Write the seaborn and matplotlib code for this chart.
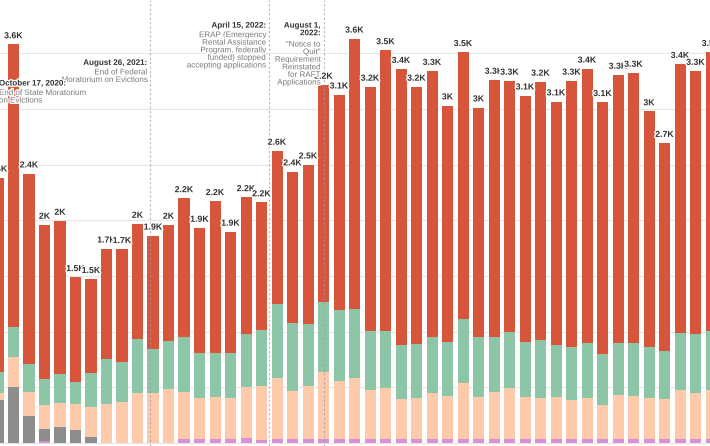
import numpy as np
import seaborn as sns
import matplotlib.pyplot as plt
import matplotlib.patheffects as pe

# monthly eviction filings, Nov 2020 onwards (bar index 0 = Nov 2020)
months = np.arange(47)
pink = [0, 0, 0, 15, 0, 0, 0, 0, 0, 0, 0, 0,
        35, 35, 35, 35, 45, 30, 35, 35, 35, 35, 35, 35, 35, 35, 35, 35,
        35, 35, 35, 35, 35, 35, 35, 35, 35, 35, 35, 35, 35, 35, 35, 35,
        35, 35, 35]
gray = [390, 505, 239, 109, 142, 115, 53] + [0] * 40
peach = [62, 266, 222, 213, 221, 231, 266, 346, 372, 452, 452, 487,
         426, 373, 381, 373, 460, 484, 550, 435, 479, 603, 523, 550,
         443, 461, 364, 373, 417, 390, 505, 381, 426, 461, 381, 373,
         381, 355, 373, 302, 399, 390, 373, 364, 443, 417, 443]
green = [186, 274, 248, 239, 257, 203, 310, 407, 355, 478, 390, 426,
         487, 398, 390, 398, 470, 505, 664, 611, 558, 629, 638, 620,
         532, 514, 478, 478, 496, 479, 576, 532, 487, 505, 488, 513,
         461, 469, 487, 460, 461, 470, 451, 425, 514, 523, 532]
red = [1745, 2534, 1710, 1382, 1374, 939, 842, 992, 1013, 1037, 1019, 1045,
       1249, 1125, 1365, 1090, 1231, 1141, 1374, 1356, 1427, 1949, 1932, 2425,
       2188, 2516, 2481, 2312, 2392, 2126, 2393, 2064, 2312, 2251, 2215, 2322,
       2189, 2393, 2465, 2263, 2410, 2428, 2118, 1869, 2410, 2365, 2499]

layers = [pink, gray, peach, green, red]
colors = ['#d88fd8', '#8d8d8d', '#fdcbab', '#8dc6a7', '#d7553b']

sns.set_theme(style='white')
plt.rcParams['font.family'] = ['Liberation Sans', 'DejaVu Sans']

fig = plt.figure(figsize=(7.1, 4.46), dpi=100)
ax = fig.add_axes([0, 0, 1, 1])

# stacked bars: draw cumulative heights from the top layer down
cum = np.cumsum(np.array(layers), axis=0)
for k in range(len(layers) - 1, -1, -1):
    sns.barplot(x=months, y=cum[k], color=colors[k], saturation=1,
                width=0.71, errorbar=None, linewidth=0, ax=ax)

totals = cum[-1]
halo = [pe.withStroke(linewidth=2, foreground='white')]
for i, t in enumerate(totals):
    s = f'{t / 1000:.1f}'
    if s.endswith('.0'):
        s = s[:-2]
    ax.annotate(s + 'K', (i, t), xytext=(0, 3), textcoords='offset points',
                ha='center', va='bottom', fontsize=6.3, fontweight='bold',
                color='#333333', path_effects=halo, zorder=5,
                annotation_clip=False)

# policy events (fractional month index), drawn right to left so the
# earliest note sits on top
events = [(21.0, 'August 1,\n2022:', '"Notice to\nQuit"\nRequirement\nReinstated\nfor RAFT\nApplications', 'right', 3775, 3605),
          (17.47, 'April 15, 2022:', 'ERAP (Emergency\nRental Assistance\nProgram, federally\nfunded) stopped\naccepting applications', 'right', 3775, 3690),
          (9.81, 'August 26, 2021:', 'End of Federal\nMoratorium on Evictions', 'right', 3440, 3355),
          (-0.48, 'October 17, 2020:', 'End of State Moratorium\non Evictions', 'left', 3255, 3170)]
for x, title, body, ha, ty, by in events:
    ax.axvline(x, color='#9a9a9a', lw=0.8, ls=(0, (2, 2)), alpha=0.7, zorder=4)
    dx = 6 if ha == 'left' else -2.2
    ax.annotate(body, (x, by), xytext=(dx, 0), textcoords='offset points',
                ha=ha, va='top', fontsize=5.8, color='#7a7a7a', linespacing=1.12,
                multialignment=ha, path_effects=halo, zorder=6,
                annotation_clip=False)
    ax.annotate(title, (x, ty), xytext=(dx, 0), textcoords='offset points',
                ha=ha, va='top', fontsize=5.8, fontweight='bold', color='#333333',
                linespacing=1.12, multialignment=ha, path_effects=halo, zorder=6,
                annotation_clip=False)

ax.set_xlim(0.129, 45.935)
ax.set_ylim(-27, 3978)
ax.set_yticks(range(0, 4000, 500))
ax.grid(axis='y', color='#e6e6e6', lw=0.8)
ax.grid(axis='x', visible=False)
ax.set_axisbelow(True)
ax.tick_params(left=False, bottom=False, labelleft=False, labelbottom=False)
ax.set_xlabel('')
ax.set_ylabel('')
sns.despine(ax=ax, left=True, bottom=True)

fig.savefig('out.png', dpi=100)
